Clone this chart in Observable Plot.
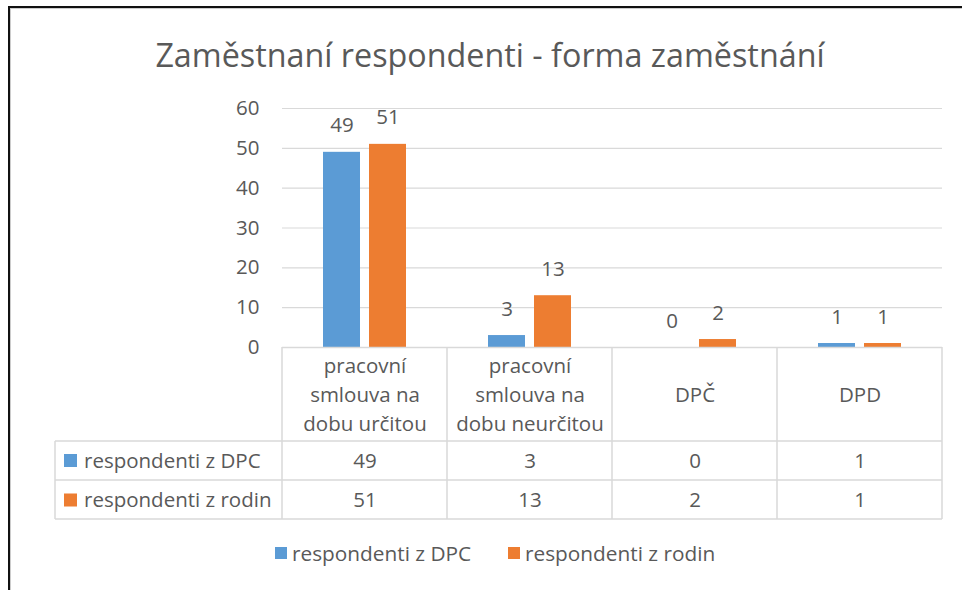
<!DOCTYPE html>
<html>
<head>
<meta charset="utf-8">
<script src="https://cdn.jsdelivr.net/npm/d3@7"></script>
<script src="https://cdn.jsdelivr.net/npm/@observablehq/plot@0.6"></script>
<style>
  html, body { margin: 0; padding: 0; background: #fff; }
  #wrap { position: relative; width: 962px; height: 590px; overflow: hidden; font-family: "Open Sans", sans-serif; color: #595959; }
  #frame { position: absolute; left: 8px; top: 6px; width: 1000px; height: 700px; border-top: 2.5px solid #111; border-left: 2.5px solid #111; box-shadow: inset 1px 1px 0 #ccc; }
  #title { position: absolute; left: 0; width: 980px; top: 32px; text-align: center; font-size: 32.3px; color: #595959; white-space: nowrap; }
  #chart { position: absolute; left: 0; top: 0; }
  .leg { position: absolute; top: 539px; font-size: 20.8px; white-space: nowrap; display: flex; align-items: center; }
  .sw { display: inline-block; width: 12px; height: 12px; margin-right: 5px; }
</style>
</head>
<body>
<div id="wrap">
  <div id="frame"></div>
  <div id="title">Zaměstnaní respondenti - forma zaměstnání</div>
  <div id="chart"></div>
  <div class="leg" style="left:275px"><span class="sw" style="background:#5B9BD5"></span>respondenti z DPC</div>
  <div class="leg" style="left:508px"><span class="sw" style="background:#ED7D31"></span>respondenti z rodin</div>
</div>
<script>
const categories = ["pracovní smlouva na dobu určitou", "pracovní smlouva na dobu neurčitou", "DPČ", "DPD"];
const headerLabels = ["pracovní\nsmlouva na\ndobu určitou", "pracovní\nsmlouva na\ndobu neurčitou", "DPČ", "DPD"];
const seriesNames = ["respondenti z DPC", "respondenti z rodin"];
const dpcValues = [49, 3, 0, 1];
const rodinValues = [51, 13, 2, 1];
const seriesColors = ["#5B9BD5", "#ED7D31"];
const yTicks = [0, 10, 20, 30, 40, 50, 60];

const data = [];
categories.forEach((c, i) => {
  data.push({cat: c, series: seriesNames[0], value: dpcValues[i]});
  data.push({cat: c, series: seriesNames[1], value: rodinValues[i]});
});
const headers = categories.map((c, i) => ({cat: c, label: headerLabels[i]}));
const row1 = categories.map((c, i) => ({cat: c, v: dpcValues[i]}));
const row2 = categories.map((c, i) => ({cat: c, v: rodinValues[i]}));

const FONT = 20.5;
const plot = Plot.plot({
  width: 962,
  height: 590,
  marginTop: 108,
  marginBottom: 243,
  marginLeft: 281,
  marginRight: 19,
  style: {fontFamily: "'Open Sans', sans-serif", fontSize: FONT + "px", color: "#595959", background: "transparent"},
  fx: {domain: categories, padding: 0, axis: null},
  x: {domain: seriesNames, paddingInner: 0.19, paddingOuter: 0.88, axis: null},
  y: {domain: [0, 60], ticks: yTicks},
  color: {domain: seriesNames, range: seriesColors},
  marks: [
    Plot.gridY(yTicks.filter(t => t > 0), {stroke: "#d9d9d9", strokeOpacity: 1, strokeWidth: 1.2}),
    Plot.axisY(yTicks, {tickSize: 0, tickPadding: 23, label: null, fontSize: FONT, fill: "#595959"}),
    Plot.barY(data, {fx: "cat", x: "series", y: "value", fill: "series"}),
    Plot.ruleY([0], {stroke: "#d9d9d9", strokeWidth: 1.5}),
    Plot.text(data, {fx: "cat", x: "series", y: "value", text: d => String(d.value), dy: -26.5, fontSize: FONT, fill: "#595959"}),
    Plot.text(headers, {fx: "cat", frameAnchor: "bottom", text: "label", dy: 45.5, lineAnchor: "middle", lineHeight: 1.42, fontSize: FONT, fill: "#595959"}),
    Plot.text(row1, {fx: "cat", frameAnchor: "bottom", text: d => String(d.v), dy: 113.5, lineAnchor: "middle", fontSize: FONT, fill: "#595959"}),
    Plot.text(row2, {fx: "cat", frameAnchor: "bottom", text: d => String(d.v), dy: 153, lineAnchor: "middle", fontSize: FONT, fill: "#595959"})
  ]
});
document.getElementById("chart").appendChild(plot);

// data table grid (decoration) aligned with the facet scale
const fx = plot.scale("fx");
const bw = fx.bandwidth;
const starts = categories.map(c => fx.apply(c));
const edges = [...starts, starts[starts.length - 1] + bw];
const x0 = 55, xEnd = edges[edges.length - 1];
const yTop = 347, yR1 = 441, yR2 = 480, yR3 = 519;
const svg = d3.select(plot);
const g = svg.append("g").attr("stroke", "#d9d9d9").attr("stroke-width", 1.5).attr("fill", "none");
edges.forEach(e => g.append("line").attr("x1", e).attr("x2", e).attr("y1", yTop).attr("y2", yR3));
g.append("line").attr("x1", x0).attr("x2", x0).attr("y1", yR1).attr("y2", yR3);
[yR1, yR2, yR3].forEach(y => g.append("line").attr("x1", x0).attr("x2", xEnd).attr("y1", y).attr("y2", y));
const lg = svg.append("g").attr("text-anchor", "start");
seriesNames.forEach((s, i) => {
  const cy = i === 0 ? 460.5 : 500;
  lg.append("rect").attr("x", 64).attr("y", cy - 6.5).attr("width", 13).attr("height", 13).attr("fill", seriesColors[i]);
  lg.append("text").attr("x", 84).attr("y", cy).attr("dy", "0.35em").attr("font-size", FONT).attr("fill", "#595959").attr("text-anchor", "start").text(s);
});
</script>
</body>
</html>
